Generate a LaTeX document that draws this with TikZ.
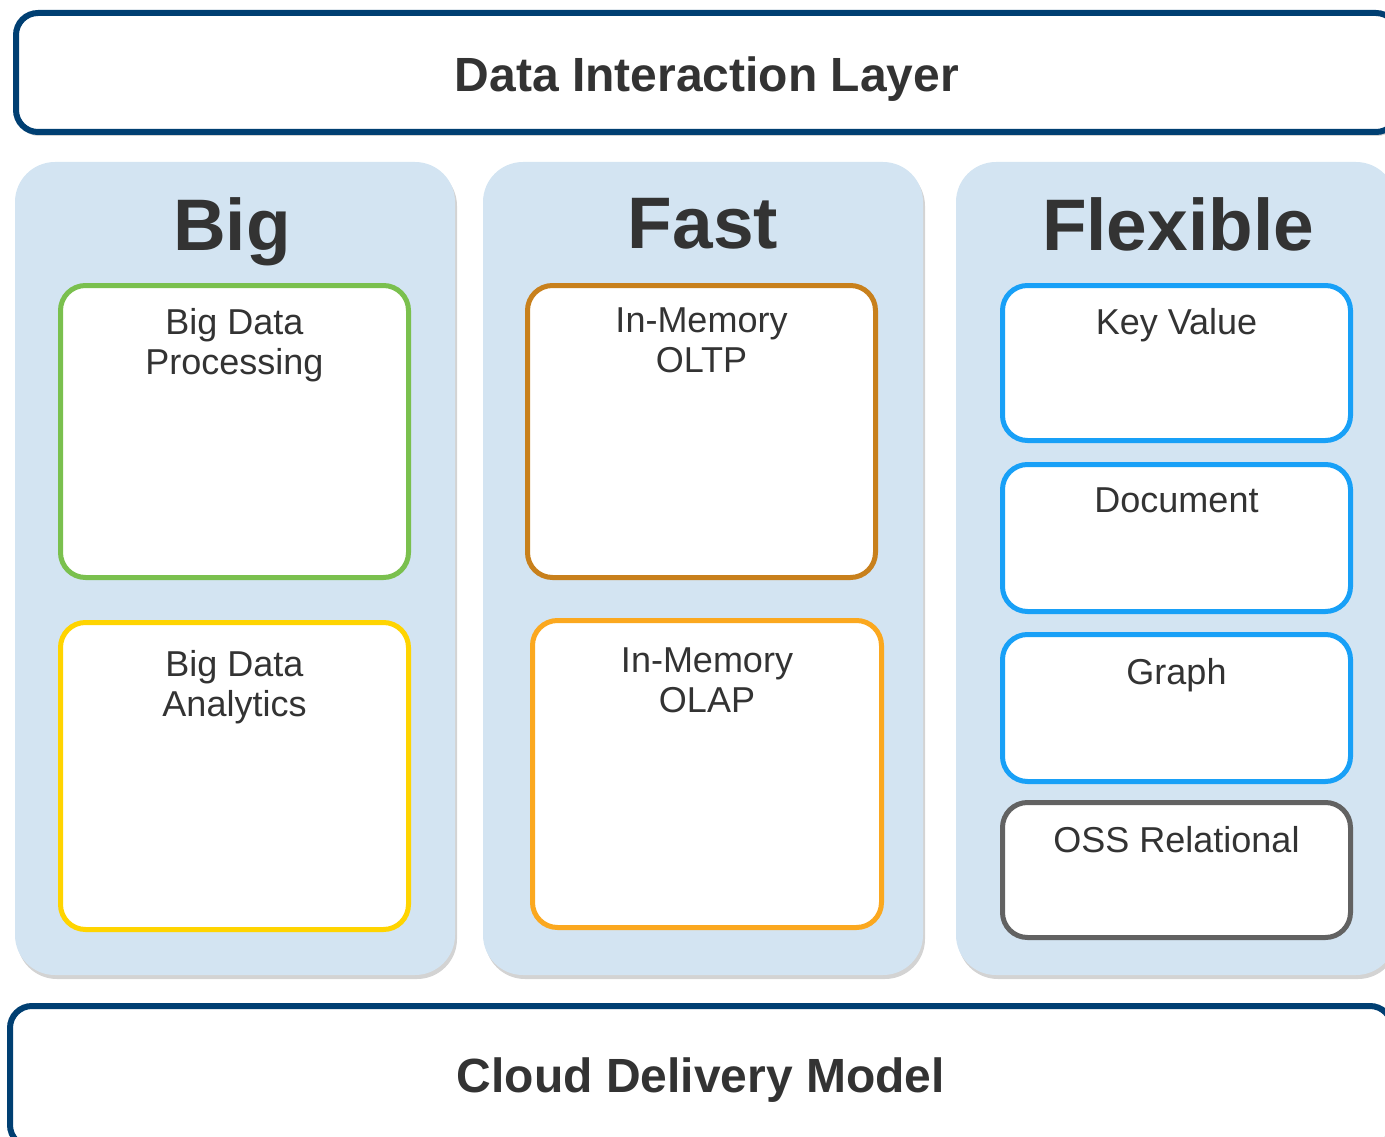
\documentclass[tikz,border=0pt]{standalone}
\usepackage{fontspec}
\setmainfont{Liberation Sans}
\usepackage{xcolor}
\usetikzlibrary{positioning,shadows}
\definecolor{navy}{HTML}{003F72}
\definecolor{panelblue}{HTML}{D3E4F2}
\definecolor{textgray}{HTML}{333333}
\definecolor{boxgreen}{HTML}{7AC04E}
\definecolor{boxyellow}{HTML}{FFD400}
\definecolor{boxbrown}{HTML}{C8801C}
\definecolor{boxorange}{HTML}{FBA81F}
\definecolor{boxblue}{HTML}{18A0F7}
\definecolor{boxgray}{HTML}{626262}

\begin{document}
\begin{tikzpicture}[x=1pt,y=-1pt,
    layer/.style={draw=navy,line width=6pt,fill=white,rounded corners=22pt,minimum width=1382pt,
      font=\fontsize{48}{52}\selectfont\bfseries,text=textgray,text depth=10pt,
      drop shadow={shadow xshift=1pt,shadow yshift=-4pt,opacity=0.35}},
    panel/.style={fill=panelblue,rounded corners=40pt,minimum width=440pt,minimum height=813pt,
      drop shadow={shadow xshift=2pt,shadow yshift=-4pt,opacity=0.35}},
    head/.style={inner sep=0pt,font=\fontsize{73}{80}\selectfont\bfseries,text=textgray},
    store/.style={draw=#1,line width=5pt,fill=white,rounded corners=25pt,minimum width=348pt},
    storetext/.style={inner sep=0pt,align=center,font=\fontsize{36}{40}\selectfont,text=textgray}]
  \clip (0,0) rectangle (1385,1137);
  \useasboundingbox (0,0) rectangle (1385,1137);

  \node[layer,minimum height=119pt,text height=49pt] (interaction) at (707,72.5) {Data Interaction Layer};
  \node[layer,minimum height=141pt,text height=41pt] (delivery) at (701,1076.5) {Cloud Delivery Model};

  \node[panel] (big) at (235,568.5) {};
  \node[panel] (fast) at (703,568.5) {};
  \node[panel] (flexible) at (1176,568.5) {};
  \node[head,below=36pt of big.north,xshift=-3pt] {Big};
  \node[head,below=36pt of fast.north] {Fast};
  \node[head,below=36pt of flexible.north,xshift=2pt] {Flexible};

  \node[store=boxgreen,minimum height=292pt] (processing) at (234.5,431.5) {};
  \node[store=boxyellow,minimum height=307pt] (analytics) at (234.5,776) {};
  \node[store=boxbrown,minimum height=292pt] (oltp) at (701.5,431.5) {};
  \node[store=boxorange,minimum height=307pt,minimum width=349pt] (olap) at (707,774) {};
  \node[store=boxblue,minimum height=155pt] (keyvalue) at (1176.5,363) {};
  \node[store=boxblue,minimum height=147pt] (document) at (1176.5,538) {};
  \node[store=boxblue,minimum height=147pt] (graph) at (1176.5,708) {};
  \node[store=boxgray,minimum height=135pt] (relational) at (1176.5,870) {};

  \node[storetext,below=25pt of processing.north] {Big Data\\Processing};
  \node[storetext,below=30pt of analytics.north] {Big Data\\Analytics};
  \node[storetext,below=25pt of oltp.north] {In-Memory\\OLTP};
  \node[storetext,below=30pt of olap.north] {In-Memory\\OLAP};
  \node[storetext,below=25pt of keyvalue.north] {Key Value};
  \node[storetext,below=26pt of document.north] {Document};
  \node[storetext,below=26pt of graph.north] {Graph};
  \node[storetext,below=26pt of relational.north] {OSS Relational};
\end{tikzpicture}
\end{document}
